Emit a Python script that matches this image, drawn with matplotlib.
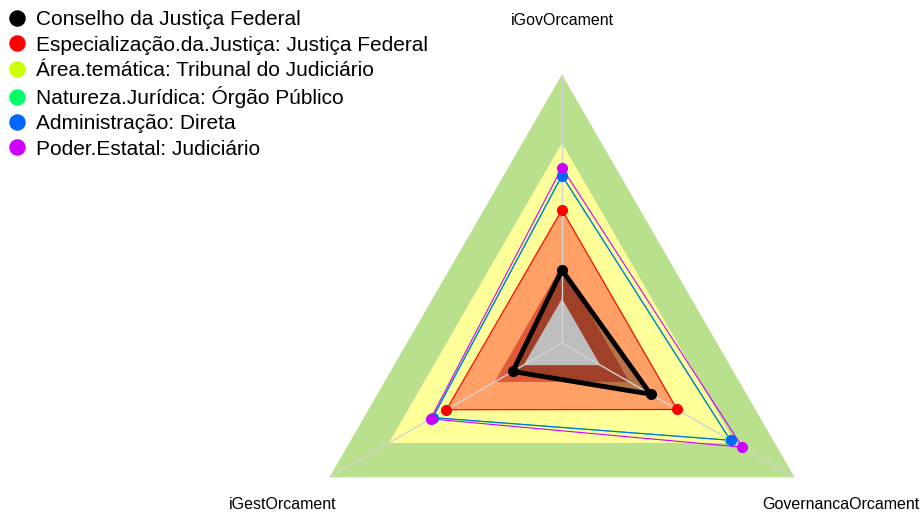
import numpy as np
import matplotlib.pyplot as plt

plt.rcParams['font.family'] = ['Liberation Sans', 'DejaVu Sans']

# axes of the radar (counter-clockwise from the top)
axis_names = ["iGovOrcament", "iGestOrcament", "GovernancaOrcament"]

# background bands (outer to inner)
band_levels = [1.0, 0.745, 0.5, 0.29, 0.165]
band_colors = ["#b9e08d", "#ffff99", "#ffa066", "#e05a3a", "#bebebe"]

# series
series_names = ["Conselho da Justiça Federal",
                "Especialização.da.Justiça: Justiça Federal",
                "Área.temática: Tribunal do Judiciário",
                "Natureza.Jurídica: Órgão Público",
                "Administração: Direta",
                "Poder.Estatal: Judiciário"]
series_colors = ["#000000", "#ff0000", "#ccff00", "#00ff66", "#0066ff", "#cc00ff"]
conselho = [0.272, 0.212, 0.381]
especializacao = [0.496, 0.497, 0.495]
area_tematica = [0.624, 0.556, 0.722]
natureza = [0.625, 0.557, 0.724]
administracao = [0.623, 0.555, 0.725]
poder = [0.653, 0.565, 0.776]
series_values = [conselho, especializacao, area_tematica, natureza, administracao, poder]

theta = np.arange(len(axis_names)) * 2 * np.pi / len(axis_names)
theta_c = np.append(theta, theta[0])


def close(v):
    return list(v) + [v[0]]


fig = plt.figure(figsize=(9.22, 5.15), dpi=100)
ax = fig.add_axes([0.3183, -0.1874, 0.5824, 1.0427], projection='polar')
ax.set_theta_offset(np.pi / 2)
ax.set_ylim(0, 1)
ax.axis('off')

# bands
for lvl, col in zip(band_levels, band_colors):
    z = 3 if col == "#bebebe" else 1
    ax.fill(theta_c, [lvl] * len(theta_c), color=col, lw=0, zorder=z)

# shaded area of the first series
ax.fill(theta_c, close(conselho), color='black', alpha=0.28, lw=0, zorder=2)

# spokes
for t in theta:
    ax.plot([t, t], [0, 1], color="#d3d3d3", lw=1, zorder=4)

# series lines and points
for name, col, vals in zip(series_names, series_colors, series_values):
    lw = 3.5 if col == "#000000" else 0.8
    ax.plot(theta_c, close(vals), color=col, lw=lw, zorder=5, clip_on=False)
    ax.plot(theta, vals, 'o', color=col, ms=7, label=name, zorder=6, clip_on=False)

# axis labels
for t, name in zip(theta, axis_names):
    ax.text(t, 1.2, name, ha='center', va='center', fontsize=11.5, clip_on=False)

h, l = ax.get_legend_handles_labels()
fig.legend(h, l, loc='upper left', bbox_to_anchor=(0.007, 0.98), frameon=False,
           fontsize=15, markerscale=1.55, numpoints=1, handlelength=1.0,
           handletextpad=0.4, labelspacing=0.30, borderaxespad=0, borderpad=0)

fig.savefig("out.png", dpi=100)
